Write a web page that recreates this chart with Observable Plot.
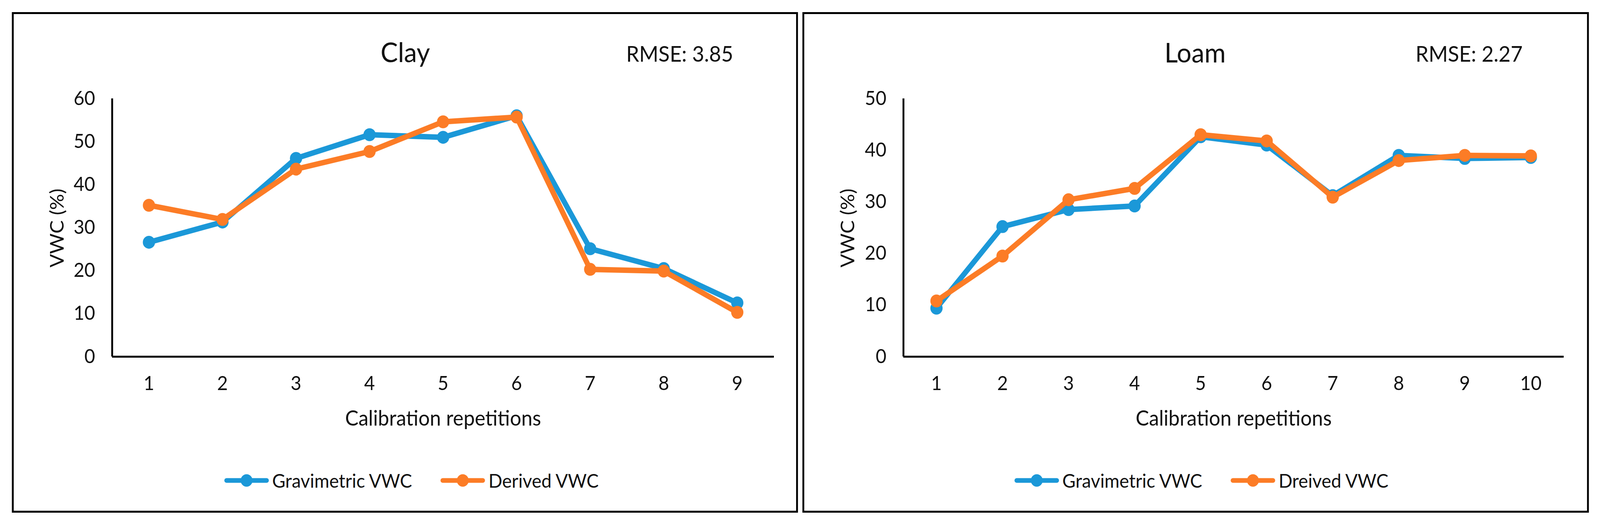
<!DOCTYPE html>
<html>
<head>
<meta charset="utf-8">
<script src="https://cdn.jsdelivr.net/npm/d3@7"></script>
<script src="https://cdn.jsdelivr.net/npm/@observablehq/plot@0.6"></script>
<style>
  html, body { margin: 0; padding: 0; background: #fff; overflow: hidden; }
  #page { position: absolute; left: 0; top: 0; width: 4315px; height: 1342px; background: #fff; overflow: hidden; font-family: Lato, "Open Sans", sans-serif; color: #111; transform-origin: 0 0; }
  .box { position: absolute; border: 5px solid #000; box-sizing: border-box; }
  .txt { position: absolute; white-space: nowrap; line-height: 1; transform: translate(-50%, -50%); }
  .ylab { position: absolute; white-space: nowrap; line-height: 1; transform: translate(-50%, -50%) rotate(-90deg); }
  .legend { position: absolute; display: flex; align-items: center; line-height: 1; white-space: nowrap; transform: translateY(-50%); }
  .legend svg { display: block; }
</style>
</head>
<body>
<div id="page"></div>
<script>
// ---- data ----
const seriesNames = ["Gravimetric VWC", "Derived VWC"];
const loamSeriesNames = ["Gravimetric VWC", "Dreived VWC"];
const seriesColors = ["#1b98d8", "#fc7c26"];

const clayReps = [1, 2, 3, 4, 5, 6, 7, 8, 9];
const clayGravimetric = [26.6, 31.3, 46.1, 51.6, 51.0, 56.0, 25.1, 20.5, 12.5];
const clayDerived = [35.2, 31.9, 43.6, 47.7, 54.6, 55.7, 20.3, 19.9, 10.3];
const clayYTicks = [0, 10, 20, 30, 40, 50, 60];

const loamReps = [1, 2, 3, 4, 5, 6, 7, 8, 9, 10];
const loamGravimetric = [9.4, 25.2, 28.5, 29.2, 42.6, 41.0, 31.2, 39.0, 38.4, 38.6];
const loamDerived = [10.8, 19.5, 30.4, 32.6, 43.0, 41.8, 30.9, 38.0, 39.0, 38.9];
const loamYTicks = [0, 10, 20, 30, 40, 50];

const page = document.getElementById("page");

function el(tag, cls, style, text) {
  const e = document.createElement(tag);
  if (cls) e.className = cls;
  Object.assign(e.style, style);
  if (text != null) e.textContent = text;
  page.appendChild(e);
  return e;
}

function panel(cfg) {
  el("div", "box", {left: cfg.box[0] + "px", top: cfg.box[1] + "px", width: cfg.box[2] + "px", height: cfg.box[3] + "px"});
  const names = cfg.names;
  const rows = [];
  cfg.reps.forEach((r, i) => {
    rows.push({rep: r, value: cfg.grav[i], series: names[0]});
    rows.push({rep: r, value: cfg.der[i], series: names[1]});
  });
  const g = rows.filter(d => d.series === names[0]);
  const o = rows.filter(d => d.series === names[1]);
  const xDomain = [cfg.reps[0] - 0.5, cfg.reps[cfg.reps.length - 1] + 0.5];
  const yDomain = [cfg.yTicks[0], cfg.yTicks[cfg.yTicks.length - 1]];
  const svg = Plot.plot({
    width: cfg.svg.w,
    height: cfg.svg.h,
    marginLeft: cfg.m[0], marginRight: cfg.m[1], marginTop: cfg.m[2], marginBottom: cfg.m[3],
    style: {fontFamily: "Lato, sans-serif", fontSize: "50px", color: "#111", background: "transparent", overflow: "visible"},
    x: {domain: xDomain, ticks: cfg.reps, tickSize: 0, tickPadding: 50, label: null, tickFormat: d => String(d)},
    y: {domain: yDomain, ticks: cfg.yTicks, tickSize: 0, tickPadding: 46, label: null, tickFormat: d => String(d)},
    color: {domain: names, range: seriesColors},
    marks: [
      Plot.ruleY([yDomain[0]], {stroke: "#000", strokeWidth: 5}),
      Plot.ruleX([xDomain[0]], {y1: yDomain[0], y2: yDomain[1], stroke: "#000", strokeWidth: 5}),
      Plot.line(g, {x: "rep", y: "value", stroke: "series", strokeWidth: 14, strokeLinejoin: "round", strokeLinecap: "round"}),
      Plot.dot(g, {x: "rep", y: "value", fill: "series", r: 16.5}),
      Plot.line(o, {x: "rep", y: "value", stroke: "series", strokeWidth: 14, strokeLinejoin: "round", strokeLinecap: "round"}),
      Plot.dot(o, {x: "rep", y: "value", fill: "series", r: 16.5})
    ]
  });
  Object.assign(svg.style, {position: "absolute", left: cfg.svg.x + "px", top: cfg.svg.y + "px", maxWidth: "none", background: "transparent"});
  page.appendChild(svg);

  el("div", "txt", {left: cfg.title[0] + "px", top: cfg.title[1] + "px", fontSize: "70px"}, cfg.titleText);
  el("div", "txt", {left: cfg.rmse[0] + "px", top: cfg.rmse[1] + "px", fontSize: "56px"}, cfg.rmseText);
  el("div", "txt", {left: cfg.xlab[0] + "px", top: cfg.xlab[1] + "px", fontSize: "54px"}, "Calibration repetitions");
  el("div", "ylab", {left: cfg.ylab[0] + "px", top: cfg.ylab[1] + "px", fontSize: "51px"}, "VWC (%)");

  const leg = el("div", "legend", {left: cfg.legend[0] + "px", top: cfg.legend[1] + "px", fontSize: "49px"});
  names.forEach((n, i) => {
    const s = d3.create("svg").attr("width", 122).attr("height", 36);
    s.append("line").attr("x1", 7).attr("x2", 115).attr("y1", 18).attr("y2", 18)
      .attr("stroke", seriesColors[i]).attr("stroke-width", 12).attr("stroke-linecap", "round");
    s.append("circle").attr("cx", 61).attr("cy", 18).attr("r", 16).attr("fill", seriesColors[i]);
    const node = s.node();
    node.style.marginRight = "8px";
    leg.appendChild(node);
    const t = document.createElement("span");
    t.textContent = n;
    if (i === 0) t.style.marginRight = "76px";
    leg.appendChild(t);
  });
}

panel({
  box: [32, 31, 2120, 1282],
  svg: {x: 40, y: 40, w: 2100, h: 1100},
  m: [262, 53, 212, 227],
  reps: clayReps, grav: clayGravimetric, der: clayDerived, yTicks: clayYTicks,
  names: seriesNames,
  titleText: "Clay", title: [1093, 132],
  rmseText: "RMSE: 3.85", rmse: [1833, 137],
  xlab: [1195, 1070], ylab: [152, 584],
  legend: [604, 1230]
});

panel({
  box: [2164, 31, 2121, 1282],
  svg: {x: 2175, y: 40, w: 2100, h: 1100},
  m: [261, 58, 212, 227],
  reps: loamReps, grav: loamGravimetric, der: loamDerived, yTicks: loamYTicks,
  names: loamSeriesNames,
  titleText: "Loam", title: [3223, 133],
  rmseText: "RMSE: 2.27", rmse: [3962, 137],
  xlab: [3327, 1070], ylab: [2284, 584],
  legend: [2735, 1230]
});

// fit the 4315x1342 layout into the actual viewport
function fit() {
  const w = document.documentElement.clientWidth || window.innerWidth;
  const h = document.documentElement.clientHeight || window.innerHeight;
  const sx = Math.min(1, w / 4315), sy = Math.min(1, h / 1342);
  page.style.transform = `scale(${sx}, ${sy})`;
}
fit();
window.addEventListener("resize", fit);
</script>
</body>
</html>
